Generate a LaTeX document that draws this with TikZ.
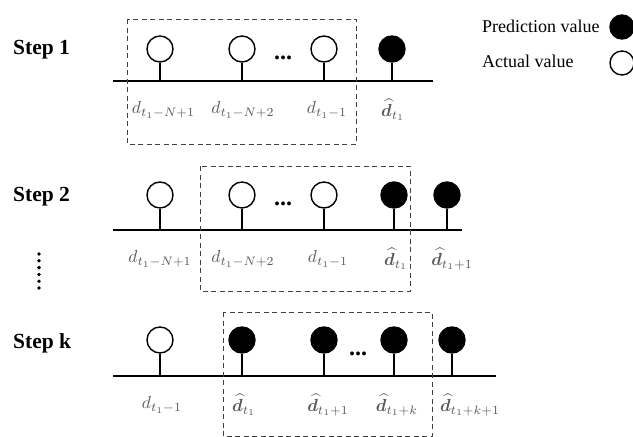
\documentclass[tikz,border=0pt]{standalone}
\usepackage{amsmath,bm,graphicx}
\usepackage{fontspec}
\setmainfont{Liberation Serif}
\newcommand{\mlab}[1]{\scalebox{1.75}{$#1$}}
\begin{document}
\begin{tikzpicture}[x=1pt,y=-1pt,
  openc/.style={circle, draw, line width=1.4pt, minimum size=26pt, inner sep=0pt, fill=white},
  fullc/.style={openc, fill=black},
  stem/.style={line width=1.3pt},
  axis/.style={line width=1.4pt},
  win/.style={draw=black!75, dashed, dash pattern=on 5pt off 3.5pt, line width=0.9pt},
  lab/.style={text=black!65, inner sep=0pt},
  steplab/.style={font=\fontsize{21.5}{24}\selectfont\bfseries, anchor=west, inner sep=0pt},
  dots/.style={font=\fontsize{24}{26}\selectfont\bfseries, anchor=base, inner sep=0pt},
  leg/.style={font=\fontsize{18}{20}\selectfont, anchor=west, inner sep=0pt}]
\useasboundingbox (0,0) rectangle (633,437);

% legend
\node[leg] (lp) at (482,26) {Prediction value};
\node[fullc, minimum size=24pt] (lpc) at (622,27) {};
\node[leg] (la) at (482,61) {Actual value};
\node[openc, minimum size=24pt] (lac) at (622,63) {};

% ---------------- Step 1
\node[steplab] (s1) at (13,50) {Step 1};
\coordinate (L1) at (113,81); \coordinate (R1) at (433,81);
\draw[axis] (L1) -- (R1);
\node[openc] (a1) at (160,49) {}; \coordinate (a1b) at (160,81);
\node[openc] (a2) at (242,49) {}; \coordinate (a2b) at (242,81);
\node[openc] (a3) at (324,49) {}; \coordinate (a3b) at (324,81);
\node[fullc] (a4) at (392,49) {}; \coordinate (a4b) at (392,81);
\foreach \n in {a1,a2,a3,a4} \draw[stem] (\n) -- (\n b);
\node[dots] (d1) at (283,59) {...};
\node[lab] (l11) at (163.5,110) {\mlab{d_{t_1-N+1}}};
\node[lab] (l12) at (243,110) {\mlab{d_{t_1-N+2}}};
\node[lab] (l13) at (327,110) {\mlab{d_{t_1-1}}};
\node[lab] (l14) at (393,110) {\mlab{\widehat{\bm d}_{t_1}}};
\draw[win] (127,19) rectangle (356,144);

% ---------------- Step 2
\node[steplab] (s2) at (13,197) {Step 2};
\coordinate (L2) at (113,230); \coordinate (R2) at (462,230);
\draw[axis] (L2) -- (R2);
\node[openc] (b1) at (160,195) {}; \coordinate (b1b) at (160,230);
\node[openc] (b2) at (242,195) {}; \coordinate (b2b) at (242,230);
\node[openc] (b3) at (324,195) {}; \coordinate (b3b) at (324,230);
\node[fullc] (b4) at (394,195) {}; \coordinate (b4b) at (394,230);
\node[fullc] (b5) at (447,195) {}; \coordinate (b5b) at (447,230);
\foreach \n in {b1,b2,b3,b4,b5} \draw[stem] (\n) -- (\n b);
\node[dots] (d2) at (283,205) {...};
\node[lab] (l21) at (160,259) {\mlab{d_{t_1-N+1}}};
\node[lab] (l22) at (243,259) {\mlab{d_{t_1-N+2}}};
\node[lab] (l23) at (328,259) {\mlab{d_{t_1-1}}};
\node[lab] (l24) at (396,259) {\mlab{\widehat{\bm d}_{t_1}}};
\node[lab] (l25) at (452,259) {\mlab{\widehat{\bm d}_{t_1+1}}};
\draw[win] (200,166) rectangle (410,291);

% vertical dots
\foreach \k in {0,...,5} \fill (39,254+\k*6.8) circle (1.9);

% ---------------- Step k
\node[steplab] (sk) at (13,343) {Step k};
\coordinate (Lk) at (113,376); \coordinate (Rk) at (496,376);
\draw[axis] (Lk) -- (Rk);
\node[openc] (c1) at (160,340) {}; \coordinate (c1b) at (160,376);
\node[fullc] (c2) at (242,340) {}; \coordinate (c2b) at (242,376);
\node[fullc] (c3) at (324,340) {}; \coordinate (c3b) at (324,376);
\node[fullc] (c4) at (394,340) {}; \coordinate (c4b) at (394,376);
\node[fullc] (c5) at (452,340) {}; \coordinate (c5b) at (452,376);
\foreach \n in {c1,c2,c3,c4,c5} \draw[stem] (\n) -- (\n b);
\node[dots] (dk) at (358,355) {...};
\node[lab] (lk1) at (162,405) {\mlab{d_{t_1-1}}};
\node[lab] (lk2) at (244,405) {\mlab{\widehat{\bm d}_{t_1}}};
\node[lab] (lk3) at (328,405) {\mlab{\widehat{\bm d}_{t_1+1}}};
\node[lab] (lk4) at (397,405) {\mlab{\widehat{\bm d}_{t_1+k}}};
\node[lab] (lk5) at (470,405) {\mlab{\widehat{\bm d}_{t_1+k+1}}};
\draw[win] (223,312) rectangle (432,436);
\end{tikzpicture}
\end{document}
